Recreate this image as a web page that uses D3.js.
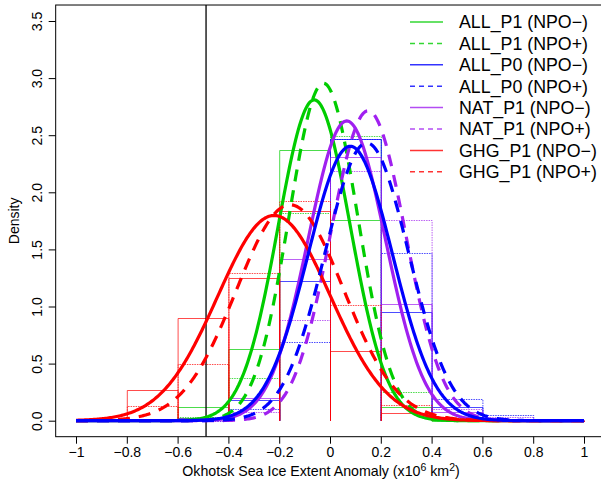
<!DOCTYPE html>
<html><head><meta charset="utf-8">
<script src="https://cdn.jsdelivr.net/npm/d3@7"></script>
<style>body{margin:0;background:#fff}svg{display:block;font-family:"Liberation Sans",Arial,sans-serif}</style>
</head><body><svg id="c" width="601" height="482"></svg>
<script>
// ---- data ----
const seriesNames = ["ALL_P1 (NPO\u2212)","ALL_P1 (NPO+)","ALL_P0 (NPO\u2212)","ALL_P0 (NPO+)",
                     "NAT_P1 (NPO\u2212)","NAT_P1 (NPO+)","GHG_P1 (NPO\u2212)","GHG_P1 (NPO+)"];
const seriesColors = ["#00cd00","#00cd00","#0000ff","#0000ff","#a020f0","#a020f0","#ff0000","#ff0000"];
const seriesDashed = [false,true,false,true,false,true,false,true];
const binEdges = [-1,-0.8,-0.6,-0.4,-0.2,0,0.2,0.4,0.6,0.8,1];
const histALL_P1_neg = [0,0,0.12,0.63,2.37,1.76,0.12,0,0,0];
const histALL_P1_pos = [0,0,0.03,0.37,1.82,2.49,0.25,0.02,0,0];
const histALL_P0_neg = [0,0,0.02,0.18,1.22,2.47,0.95,0.12,0,0];
const histALL_P0_pos = [0,0,0,0.10,0.69,2.47,1.47,0.19,0.05,0];
const histNAT_P1_neg = [0,0,0.02,0.20,1.42,2.31,1.02,0.08,0,0];
const histNAT_P1_pos = [0,0,0,0.08,0.88,2.19,1.76,0.10,0.03,0];
const histGHG_P1_neg = [0,0.27,0.90,1.25,1.84,0.61,0.07,0.01,0,0];
const histGHG_P1_pos = [0,0.13,0.50,1.29,1.92,1.01,0.14,0.01,0,0];
// fitted normal density parameters (mean, sd) per series
const fitMean = [-0.062,-0.026,0.080,0.145,0.066,0.150,-0.220,-0.157];
const fitSd   = [0.142,0.135,0.166,0.164,0.152,0.147,0.222,0.211];
const observedValue = -0.488;
const xTicks = [-1,-0.8,-0.6,-0.4,-0.2,0,0.2,0.4,0.6,0.8,1];
const yTicks = [0,0.5,1,1.5,2,2.5,3,3.5];
const xTitle = "Okhotsk Sea Ice Extent Anomaly (x10";
const yTitle = "Density";

const hists = [histALL_P1_neg,histALL_P1_pos,histALL_P0_neg,histALL_P0_pos,
               histNAT_P1_neg,histNAT_P1_pos,histGHG_P1_neg,histGHG_P1_pos];

const svg = d3.select("#c");
const x = d3.scaleLinear().domain([-1,1]).range([76,584]);
const y = d3.scaleLinear().domain([0,3.5]).range([420.7,21]);
const xl = x(-1.08), xr = x(1.08), yt = y(3.64), yb = y(-0.14);

const plot = svg.append("g");
plot.append("defs").append("clipPath").attr("id","clip")
  .append("rect").attr("x",xl).attr("y",yt).attr("width",xr-xl).attr("height",yb-yt);
const inner = plot.append("g").attr("clip-path","url(#clip)");

// histograms (left, top and right sides of each bin)
hists.forEach((h,si)=>{
  inner.append("g").selectAll("path").data(h).join("path")
    .attr("d",(d,i)=>{
      const a=x(binEdges[i])+0.5, b=x(binEdges[i+1])+0.5, t=Math.round(y(d))+0.5, z=y(0);
      return `M${a},${z}V${t}H${b}V${z}`;
    })
    .attr("fill","none")
    .attr("stroke",seriesColors[si])
    .attr("stroke-opacity",0.7)
    .attr("stroke-width",1)
    .attr("stroke-dasharray",seriesDashed[si]?"1.5,1":null);
});

// vertical observed line
inner.append("line").attr("x1",x(observedValue)).attr("x2",x(observedValue))
  .attr("y1",yt).attr("y2",yb).attr("stroke","#000").attr("stroke-width",1.3);

// density curves
const xs = d3.range(-1,1.0001,0.005);
const line = d3.line().x(d=>x(d[0])).y(d=>y(d[1]));
const order = [0,1,4,5,6,7,2,3];
order.forEach(si=>{
  const m=fitMean[si], s=fitSd[si];
  const pts = xs.map(v=>[v, Math.exp(-0.5*((v-m)/s)**2)/(s*Math.sqrt(2*Math.PI))]);
  inner.append("path").attr("d",line(pts)).attr("fill","none")
    .attr("stroke",seriesColors[si]).attr("stroke-width",3.2)
    .attr("stroke-linecap","butt")
    .attr("stroke-dasharray",seriesDashed[si]?"12,9":null);
});

// box
plot.append("rect").attr("x",xl).attr("y",yt).attr("width",xr-xl).attr("height",yb-yt)
  .attr("fill","none").attr("stroke","#000").attr("stroke-width",1);

// x axis
const xa = svg.append("g").attr("transform",`translate(0,${yb})`)
  .call(d3.axisBottom(x).tickValues(xTicks).tickSize(7).tickPadding(3)
    .tickFormat(d=>d3.format("")(d).replace("-","\u2212")));
xa.select(".domain").remove();
xa.selectAll("text").attr("font-size",14).attr("fill","#000").attr("font-family","Liberation Sans, Arial, sans-serif");
xa.selectAll("line").attr("stroke","#000");

// y axis
const ya = svg.append("g").attr("transform",`translate(${xl},0)`)
  .call(d3.axisLeft(y).tickValues(yTicks).tickSize(7).tickFormat(d3.format(".1f")));
ya.select(".domain").remove();
ya.selectAll("line").attr("stroke","#000");
ya.selectAll("text").attr("font-size",14).attr("fill","#000")
  .attr("font-family","Liberation Sans, Arial, sans-serif")
  .attr("text-anchor","middle").attr("dy",null).attr("x",null)
  .attr("transform",d=>`translate(-14,0) rotate(-90)`).attr("y",0);

// titles
const xt = svg.append("text").attr("x",321).attr("y",476).attr("text-anchor","middle")
  .attr("font-size",14.2).attr("fill","#000");
xt.append("tspan").text(xTitle);
xt.append("tspan").attr("dy",-5).attr("font-size",10.5).text("6");
xt.append("tspan").attr("dy",5).text(" km");
xt.append("tspan").attr("dy",-5).attr("font-size",10.5).text("2");
xt.append("tspan").attr("dy",5).text(")");
svg.append("text").attr("transform",`translate(19,${(yt+yb)/2}) rotate(-90)`)
  .attr("text-anchor","middle").attr("font-size",14).attr("fill","#000").text(yTitle);

// legend
const lg = svg.append("g");
seriesNames.forEach((n,i)=>{
  const yy = 22 + i*21.4;
  lg.append("line").attr("x1",410).attr("x2",443).attr("y1",yy).attr("y2",yy)
    .attr("stroke",seriesColors[i]).attr("stroke-width",1.5).attr("stroke-opacity",0.8)
    .attr("stroke-dasharray",seriesDashed[i]?"5,4":null);
  lg.append("text").attr("x",459).attr("y",yy).attr("dy","0.36em")
    .attr("font-size",17.8).attr("fill","#000").text(n);
});
</script></body></html>
